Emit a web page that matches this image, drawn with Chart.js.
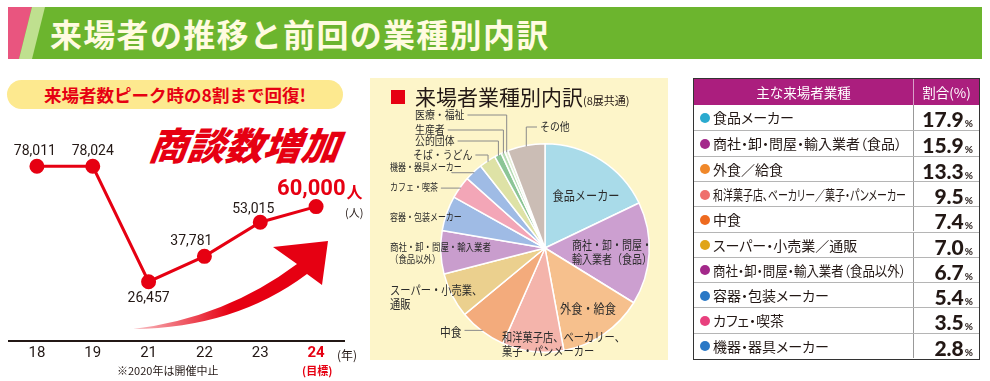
<!DOCTYPE html>
<html><head><meta charset="utf-8">
<script src="https://cdn.jsdelivr.net/npm/chart.js@4.4.1/dist/chart.umd.min.js"></script>
<style>
html,body{margin:0;padding:0;background:#fff;}
body{width:990px;height:381px;position:relative;overflow:hidden;font-family:"Noto Sans CJK JP","Noto Sans",sans-serif;color:#231815;}
.abs{position:absolute;}
#hdrGreen{left:8px;top:7px;width:974px;height:52px;background:#6cb52e;}
#hdrPink{left:8px;top:7px;width:40px;height:52px;background:#e9557f;clip-path:polygon(0 0,24px 0,11px 100%,0 100%);}
#hdrStripe{left:8px;top:7px;width:40px;height:52px;background:#bfe08f;clip-path:polygon(24px 0,37px 0,24px 100%,11px 100%);}
#hdrTitle{left:50px;top:7px;height:52px;line-height:52px;font-size:32px;font-weight:700;color:#fffbe0;letter-spacing:1.3px;white-space:nowrap;}
#pill{left:7px;top:80px;width:336px;height:29px;border-radius:15px;background:#fde98f;text-align:center;line-height:29px;font-size:17.5px;font-weight:700;color:#e60012;white-space:nowrap;}
#shodan{left:150px;top:122px;font-size:38px;font-weight:900;color:#e60012;font-style:italic;white-space:nowrap;line-height:44px;transform:skewX(-8deg);}
.note{font-size:11px;white-space:nowrap;line-height:13px;}
#piePanel{left:370px;top:78px;width:298px;height:282px;background:#fdf5c9;}
#pieTitle{left:391px;top:82px;white-space:nowrap;font-size:21px;line-height:28px;}
#pieTitle .sq{display:inline-block;width:14px;height:14px;background:#e60012;margin-right:10px;vertical-align:1px;}
#pieTitle small{font-size:11px;}
#tbl{left:693px;top:78px;width:287px;height:282px;border:1.5px solid #333;box-sizing:border-box;background:#fff;}
.row{position:absolute;left:0;width:100%;box-sizing:border-box;}
.hd{background:#ab1e7e;color:#fff;font-size:13.5px;}
.cellL{position:absolute;left:0;top:0;width:219px;height:100%;}
.cellR{position:absolute;left:219px;top:0;right:0;height:100%;border-left:1px solid #999;}
.dot{position:absolute;left:6px;width:10px;height:10px;border-radius:50%;}
.lab{position:absolute;left:19px;font-size:14px;white-space:nowrap;transform-origin:0 50%;font-feature-settings:"palt";}
.val{position:absolute;right:6px;font-family:Lato,"Open Sans",sans-serif;font-weight:900;font-size:21px;white-space:nowrap;color:#231815;}
.val small{font-size:10px;font-weight:700;margin-left:1px;}
</style>
</head>
<body>
<div id="hdrGreen" class="abs"></div>
<div id="hdrPink" class="abs"></div>
<div id="hdrStripe" class="abs"></div>
<div id="hdrTitle" class="abs">来場者の推移と前回の業種別内訳</div>

<div id="pill" class="abs">来場者数ピーク時の8割まで回復!</div>
<div id="shodan" class="abs">商談数増加</div>
<canvas id="lineChart" class="abs" style="left:0;top:0;" width="370" height="381"></canvas>
<div class="abs note" style="left:345px;top:206px;">(人)</div>
<div class="abs note" style="left:337px;top:348px;font-size:12px;">(年)</div>
<div class="abs note" style="left:302px;top:364px;color:#e60012;font-weight:700;">(目標)</div>
<div class="abs note" style="left:117px;top:364px;">※2020年は開催中止</div>

<div id="piePanel" class="abs"></div>
<div id="pieTitle" class="abs"><span class="sq"></span>来場者業種別内訳<small>(8展共通)</small></div>
<canvas id="pieChart" class="abs" style="left:370px;top:78px;" width="298" height="282"></canvas>

<div id="tbl" class="abs"></div>

<script>
// ---------- data ----------
const years = ['18', '19', '21', '22', '23', '24'];
const visitors = [78011, 78024, 26457, 37781, 53015, 60000];
const visitorLabels = ['78,011', '78,024', '26,457', '37,781', '53,015', '60,000'];

const pieCategories = ['食品メーカー', '商社・卸・問屋・輸入業者（食品）', '外食・給食', '和洋菓子店、ベーカリー、菓子・パンメーカー', '中食', 'スーパー・小売業、通販', '商社・卸・問屋・輸入業者（食品以外）', '容器・包装メーカー', 'カフェ・喫茶', '機器・器具メーカー', 'そば・うどん', '公的団体', '生産者', '医療・福祉', 'その他'];
const pieShares = [17.9, 15.9, 13.3, 9.5, 7.4, 7.0, 6.7, 5.4, 3.5, 2.8, 2.6, 1.1, 0.6, 0.5, 5.8];
const pieColors = ['#a9dbe9', '#cc9fd0', '#f6c08d', '#f4b4ab', '#f3ab7c', '#ebd08e', '#c99dcd', '#9fbbe5', '#f3a6b7', '#9fbbe5', '#dee2a6', '#8cc596', '#b7dcb5', '#e4efd6', '#cbbdb5'];

const tableHeader = ['主な来場者業種', '割合(%)'];
const tableCategories = ['食品メーカー', '商社・卸・問屋・輸入業者（食品）', '外食／給食', '和洋菓子店、ベーカリー／菓子・パンメーカー', '中食', 'スーパー・小売業／通販', '商社・卸・問屋・輸入業者（食品以外）', '容器・包装メーカー', 'カフェ・喫茶', '機器・器具メーカー'];
const tableShares = ['17.9', '15.9', '13.3', '9.5', '7.4', '7.0', '6.7', '5.4', '3.5', '2.8'];
const tableDotColors = ['#2aaacf', '#a3288a', '#f0882a', '#ef6f6c', '#ee6a1f', '#e0a418', '#a3288a', '#2a78c6', '#e8407e', '#2a78c6'];

// ---------- line chart ----------
const RED = '#e60012';
const lineLabelPos = [
  {dx: -2, dy: -15}, {dx: 0, dy: -15}, {dx: 0, dy: 17},
  {dx: -13, dy: -15}, {dx: -7, dy: -13}, null
];
const linePlugin = {
  id: 'lineDecor',
  beforeDatasetsDraw(chart) {
    const ctx = chart.ctx;
    ctx.save();
    const g = ctx.createLinearGradient(133, 0, 230, 0);
    g.addColorStop(0, 'rgba(230,0,18,0.25)');
    g.addColorStop(1, 'rgba(230,0,18,1)');
    ctx.fillStyle = g;
    ctx.beginPath();
    ctx.moveTo(133, 329);
    ctx.quadraticCurveTo(225, 318, 297, 264);
    ctx.lineTo(273, 247);
    ctx.lineTo(328, 241);
    ctx.lineTo(322, 285);
    ctx.lineTo(307, 274);
    ctx.quadraticCurveTo(235, 328, 133, 329);
    ctx.closePath();
    ctx.fill();
    ctx.restore();
  },
  afterDatasetsDraw(chart) {
    const ctx = chart.ctx;
    const pts = chart.getDatasetMeta(0).data;
    ctx.save();
    ctx.textAlign = 'center';
    ctx.textBaseline = 'middle';
    pts.forEach((p, i) => {
      const lp = lineLabelPos[i];
      if (lp) {
        ctx.fillStyle = '#231815';
        ctx.font = '14px Roboto, "Noto Sans", sans-serif';
        ctx.fillText(visitorLabels[i], p.x + lp.dx, p.y + lp.dy);
      } else {
        ctx.fillStyle = RED;
        ctx.textAlign = 'left';
        ctx.font = 'bold 22px Roboto, "Noto Sans", sans-serif';
        const x0 = p.x - 39, y0 = p.y - 17;
        ctx.fillText(visitorLabels[i], x0, y0);
        const w = ctx.measureText(visitorLabels[i]).width;
        ctx.font = 'bold 16px "Noto Sans CJK JP", sans-serif';
        ctx.fillText('人', x0 + w + 1, y0 + 2);
        ctx.textAlign = 'center';
      }
    });
    ctx.restore();
  }
};
new Chart(document.getElementById('lineChart'), {
  type: 'line',
  data: {
    labels: years,
    datasets: [{
      data: visitors,
      borderColor: RED,
      backgroundColor: RED,
      borderWidth: 3,
      pointRadius: 6,
      pointBackgroundColor: RED,
      pointBorderColor: RED,
      tension: 0
    }]
  },
  options: {
    responsive: false,
    animation: false,
    layout: {padding: {left: 9, right: 26, top: 117, bottom: 16}},
    plugins: {legend: {display: false}, tooltip: {enabled: false}},
    scales: {
      x: {
        offset: true,
        grid: {display: false, drawTicks: false},
        border: {display: true, color: '#231815', width: 2},
        ticks: {
          padding: 3,
          font: (c) => ({size: 15, family: 'Roboto, "Noto Sans", sans-serif', weight: c.index === 5 ? 'bold' : 'normal'}),
          color: (c) => c.index === 5 ? RED : '#231815'
        }
      },
      y: {display: false, min: 0, max: 100000}
    }
  },
  plugins: [linePlugin]
});

// ---------- pie chart ----------
// label layout (canvas coords of pie canvas)
const pieLabelLayout = [
  {lines: ['食品メーカー'], x: 216, y: 117, align: 'center', size: 13, sx: 0.86},
  {lines: ['商社・卸・問屋・', '輸入業者（食品）'], x: 202, y: 167, align: 'left', size: 12.5, sx: 0.8},
  {lines: ['外食・給食'], x: 218, y: 230, align: 'center', size: 13, sx: 0.86},
  {lines: ['和洋菓子店、ベーカリー、', '菓子・パンメーカー'], x: 132, y: 259, align: 'left', size: 12.5, sx: 0.82},
  {lines: ['中食'], x: 70, y: 254, align: 'left', size: 12.5, sx: 0.86, leader: 'h'},
  {lines: ['スーパー・小売業、', '通販'], x: 20, y: 212, align: 'left', size: 12.5, sx: 0.82},
  {lines: ['商社・卸・問屋・輸入業者', '（食品以外）'], x: 20, y: 169, align: 'left', size: 10.5, sx: 0.8},
  {lines: ['容器・包装メーカー'], x: 20, y: 139, align: 'left', size: 10.5, sx: 0.76},
  {lines: ['カフェ・喫茶'], x: 20, y: 109, align: 'left', size: 10.5, sx: 0.76, leader: 'h'},
  {lines: ['機器・器具メーカー'], x: 20, y: 89, align: 'left', size: 10.5, sx: 0.76, leader: 'hl'},
  {lines: ['そば・うどん'], x: 43, y: 77, align: 'left', size: 11, sx: 0.9, leader: 'hv'},
  {lines: ['公的団体'], x: 45, y: 63, align: 'left', size: 11, sx: 0.9, leader: 'hv'},
  {lines: ['生産者'], x: 45, y: 52, align: 'left', size: 11, sx: 0.9, leader: 'hv'},
  {lines: ['医療・福祉'], x: 45, y: 37, align: 'left', size: 11, sx: 0.9, leader: 'hv'},
  {lines: ['その他'], x: 170, y: 49, align: 'left', size: 11, sx: 0.9, leader: 'hvL'}
];
function drawScaled(ctx, text, x, y, sx, align) {
  const w = ctx.measureText(text).width * sx;
  ctx.save();
  const left = align === 'center' ? x - w / 2 : x;
  ctx.translate(left, y);
  ctx.scale(sx, 1);
  ctx.textAlign = 'left';
  ctx.fillText(text, 0, 0);
  ctx.restore();
  return w;
}
const piePlugin = {
  id: 'pieLabels',
  afterDatasetsDraw(chart) {
    const ctx = chart.ctx;
    const arcs = chart.getDatasetMeta(0).data;
    ctx.save();
    ctx.textBaseline = 'middle';
    ctx.fillStyle = '#2b2b2b';
    ctx.strokeStyle = '#8a8a8a';
    ctx.lineWidth = 1;
    arcs.forEach((a, i) => {
      const L = pieLabelLayout[i];
      ctx.font = L.size + 'px "Noto Sans CJK JP", sans-serif';
      let maxW = 0;
      L.lines.forEach((t, k) => {
        const w = drawScaled(ctx, t, L.x, L.y + k * (L.size + 1.5), L.sx, L.align);
        maxW = Math.max(maxW, w);
      });
      if (!L.leader) return;
      const mid = (a.startAngle + a.endAngle) / 2;
      const r = a.outerRadius - 1;
      const ax = a.x + r * Math.cos(mid), ay = a.y + r * Math.sin(mid);
      ctx.beginPath();
      if (L.leader === 'h') {
        ctx.moveTo(L.x + maxW + 3, ay);
        ctx.lineTo(ax, ay);
      } else if (L.leader === 'hl') {
        const sx0 = L.x + maxW - 10;
        ctx.moveTo(sx0, L.y + 5);
        ctx.lineTo(sx0, ay);
        ctx.lineTo(ax, ay);
      } else if (L.leader === 'hv') {
        ctx.moveTo(L.x + maxW + 3, L.y);
        ctx.lineTo(ax, L.y);
        ctx.lineTo(ax, ay);
      } else if (L.leader === 'hvL') {
        ctx.moveTo(L.x - 3, L.y);
        ctx.lineTo(ax, L.y);
        ctx.lineTo(ax, ay);
      }
      ctx.stroke();
    });
    ctx.restore();
  }
};
new Chart(document.getElementById('pieChart'), {
  type: 'pie',
  data: {
    labels: pieCategories,
    datasets: [{data: pieShares, backgroundColor: pieColors, borderColor: '#ffffff', borderWidth: 1.5}]
  },
  options: {
    responsive: false,
    animation: false,
    layout: {padding: {left: 70, right: 18, top: 65, bottom: 7}},
    plugins: {legend: {display: false}, tooltip: {enabled: false}}
  },
  plugins: [piePlugin]
});

// ---------- table ----------
(function buildTable() {
  const tbl = document.getElementById('tbl');
  const H = 26, RH = (282 - 3 - H) / tableCategories.length;
  const hd = document.createElement('div');
  hd.className = 'row hd';
  hd.style.top = '0px'; hd.style.height = H + 'px'; hd.style.lineHeight = H + 'px';
  hd.innerHTML = '<div class="cellL" style="text-align:center">' + tableHeader[0] + '</div>' +
                 '<div class="cellR" style="text-align:center;border-left:1px solid #d9a0c8">' + tableHeader[1] + '</div>';
  tbl.appendChild(hd);
  tableCategories.forEach((c, i) => {
    const r = document.createElement('div');
    r.className = 'row';
    r.style.top = (H + i * RH) + 'px';
    r.style.height = RH + 'px';
    if (i > 0) r.style.borderTop = '1px solid #b5b5b5';
    const mid = RH / 2;
    r.innerHTML = '<div class="cellL"><span class="dot" style="top:' + (mid - 5) + 'px;background:' + tableDotColors[i] + '"></span>' +
      '<span class="lab" style="top:0;line-height:' + RH + 'px">' + c + '</span></div>' +
      '<div class="cellR"><span class="val" style="top:0;line-height:' + (RH + 2) + 'px">' + tableShares[i] + '<small>%</small></span></div>';
    tbl.appendChild(r);
  });
  tbl.querySelectorAll('.lab').forEach(el => {
    const w = el.getBoundingClientRect().width;
    const maxW = 193;
    if (w > maxW) el.style.transform = 'scaleX(' + (maxW / w) + ')';
  });
})();
</script>
</body></html>
